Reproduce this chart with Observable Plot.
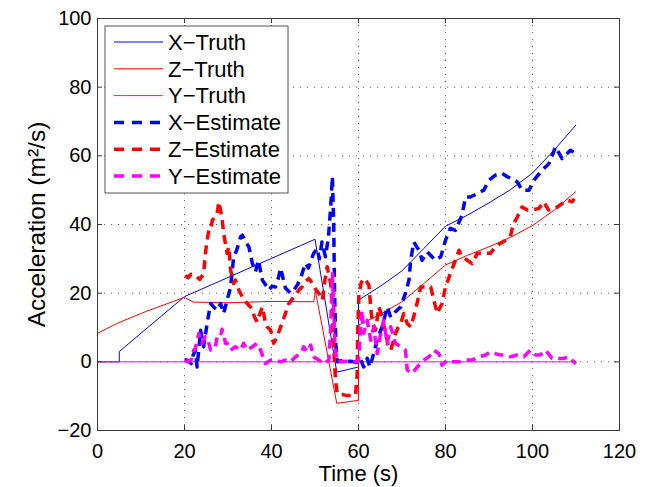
<!DOCTYPE html>
<html><head><meta charset="utf-8">
<script src="https://cdn.jsdelivr.net/npm/d3@7"></script>
<script src="https://cdn.jsdelivr.net/npm/@observablehq/plot@0.6"></script>
<style>
html,body{margin:0;padding:0;background:#fff;}
#chart{width:652px;height:487px;}
</style></head><body><div id="chart"></div>
<script>
const xTicks = [0, 20, 40, 60, 80, 100, 120];
const yTicks = [-20, 0, 20, 40, 60, 80, 100];
const xLabel = "Time (s)";
const yLabel = "Acceleration (m²/s)";
const seriesNames = ["X−Truth", "Z−Truth", "Y−Truth", "X−Estimate", "Z−Estimate", "Y−Estimate"];
const seriesColors = ["#0000ff", "#ff0000", "#ff00ff", "#0000ff", "#ff0000", "#ff00ff"];

const xTruth = [[0,0],[5,0],[5,3],[20,19],[50,35.7],[55,-3],[60,-1.5],[60,18],[65,22],[70,26.5],[75,33],[80,39.5],[85,42.7],[90,46.3],[95,50.2],[100,55],[105,61.7],[110,69]];
const zTruth = [[0,8.3],[4.5,11.2],[11,14.6],[20,18.8],[22,17.4],[30,17.2],[40,17.6],[49.7,17.5],[50.1,20.6],[55,-12.1],[60,-11.2],[60,10.7],[65,13.8],[70,17.5],[75,22.8],[80,28.2],[85,31],[90,33.5],[95,36.3],[100,39.7],[105,44.2],[110,49.6]];
const yTruth = [[0,0],[110,0]];

const xEstimate = [[20.0,0.5],[20.6,0.5],[21.5,-0.5],[22.0,2],[22.5,3.4],[22.9,-1.5],[23.7,9.2],[24.4,4.4],[25.2,11.2],[26.0,17],
[26.7,16],[27.5,15],[28.3,17],[29.0,14.1],[29.8,18],[30.6,21.8],[31.3,30.6],[32.0,32.5],[32.9,36.4],[33.3,36.9],
[34.0,35],[34.8,33.5],[35.6,28.7],[36.3,26.2],[37.0,29.6],[37.9,23.8],[38.6,22.5],[39.4,20.9],[40.1,22],[40.9,21.8],
[41.5,24],[42.1,27.3],[43.2,21.5],[44.4,20],[45.2,21],[45.9,22.3],[46.7,24.4],[47.8,28.7],[48.5,27.3],[49.2,30],
[49.7,31.6],[50.5,33],[51.0,30],[51.6,34.9],[52.4,30.6],[53.1,36.4],[53.6,45],[54.0,53.9],[54.3,40],[54.5,20],
[54.8,5],[55.1,0],[56.0,0.3],[57.0,0],[58.0,0.2],[59.0,0],[59.8,-0.5],[60.5,0.5],[61.2,-1.5],[62.0,1],
[62.6,-1.5],[63.4,2],[64.3,6.3],[65.4,10.2],[66.0,13],[66.6,16],[67.4,13],[68.5,14.6],[69.7,16],[70.8,20],
[71.6,23.8],[72.0,29.6],[72.7,34.9],[73.9,32.5],[74.6,29.6],[75.8,32],[76.9,30.6],[77.7,29.6],[78.9,30.6],[80.0,35.4],
[81.1,38.9],[82.3,38.3],[83.8,42.7],[84.6,48],[85.7,48],[87.3,49],[88.8,50],[90.0,52.9],[91.5,54.4],[93.0,54.9],
[94.2,53.9],[95.3,53.4],[96.5,52.4],[97.6,50],[99.2,50],[100.3,52.9],[102.2,55.8],[103.8,57.8],[105.3,62.6],[106.8,59.2],
[108.7,61.6],[109.5,61.1]];

const zEstimate = [[20.2,25.2],[20.8,24.5],[21.5,25.5],[22.5,25.2],[23.5,24],[24.4,25.7],[24.8,31.6],[25.2,35.4],[25.6,38.3],[26.0,38.3],
[26.4,41.3],[26.7,41.7],[27.5,43.2],[27.9,46.6],[28.3,44],[28.6,42.2],[29.0,37.4],[29.8,31.6],[30.2,33.5],[30.6,26.7],
[31.3,22.8],[31.7,23.8],[32.5,20.9],[33.3,18.9],[34.4,17],[35.5,15.5],[36.1,13],[36.7,11.6],[37.3,14],[37.9,16],
[38.5,12],[39.0,10.2],[39.8,9.2],[40.5,5.4],[41.3,7.3],[42.1,10.2],[43.2,14.1],[44.0,17],[45.1,18.9],[46.3,20.9],
[47.0,21.8],[47.4,22.8],[48.2,23.8],[48.6,24.3],[49.4,22.8],[50.2,21],[50.9,19.9],[51.7,18],[52.3,24],[52.8,27.7],
[53.6,22.8],[54.0,15],[54.3,4.4],[54.7,-5.3],[55.1,-9.2],[56.0,-9.5],[57.0,-9.7],[58.0,-9.8],[59.3,-9.7],[59.7,-3.4],
[59.8,8.3],[60.1,19.9],[60.6,23],[61.2,24.3],[61.8,23.5],[62.4,22.3],[62.8,16],[63.1,12.1],[63.9,9.2],[64.7,16],
[65.4,13.1],[66.2,8.3],[66.8,5],[67.4,3.4],[68.0,6],[68.5,8.3],[69.1,10],[69.7,11.2],[70.4,14.1],[71.2,11.2],
[72.0,10.2],[73.1,15],[74.3,21.8],[75.4,21.8],[76.6,21.8],[77.3,18],[78.1,14.1],[79.2,17],[80.0,21.8],[81.1,25.7],
[82.3,29.6],[83.1,32.5],[83.8,30.6],[85.0,29.6],[86.1,28.6],[87.3,31.6],[88.8,31.6],[90.3,31.6],[91.5,33.5],[92.6,34.5],
[93.8,35.4],[94.9,36.4],[95.5,39.8],[96.5,42.2],[97.6,45.1],[98.8,44.2],[99.9,44.2],[101.5,44.7],[102.6,46.6],[103.7,44.2],
[105.7,45.1],[106.8,46.1],[108.0,47.1],[109.1,46.6],[109.6,47.5]];

const yEstimate = [[20.2,0.5],[20.6,0],[21.5,0.5],[22.1,3.4],[22.5,3.9],[23.3,8.3],[24.0,5.4],[24.8,7.3],[25.2,7.3],[26.0,3.4],
[26.4,3.4],[27.1,4.4],[27.5,7.3],[28.3,7.3],[28.6,9.5],[29.0,8.3],[29.4,5.4],[29.8,5.4],[30.6,3.4],[31.7,4.4],
[32.9,3.4],[33.6,5.4],[34.4,3.4],[35.6,4.4],[36.7,5.4],[37.5,3.4],[38.6,-0.5],[39.8,0.5],[40.9,0.5],[42.1,0],
[43.2,0.5],[44.4,0],[45.5,1.5],[46.7,2.4],[47.4,4.4],[48.2,2.9],[49.0,4.9],[49.7,1.5],[50.9,0.5],[52.0,-0.5],
[53.2,0.5],[53.6,10],[54.0,25.7],[54.3,15],[54.6,5],[55.0,0],[56.0,0],[57.0,0.2],[58.0,0],[59.0,0],
[60.0,0.5],[60.3,6],[60.8,15],[61.2,8.3],[62.0,12.1],[62.8,6.3],[63.5,10.2],[64.3,2.4],[65.1,8.3],[65.8,12.1],
[66.6,5.4],[67.4,10.2],[68.5,5.4],[69.7,4.4],[70.8,3.4],[71.2,-2.4],[72.3,-3.4],[73.5,-1.5],[75.0,0.5],[76.2,1.5],
[77.3,3.4],[78.5,2.4],[79.2,-1],[80.4,0.5],[81.5,0],[83.1,0],[84.6,0.5],[86.1,0.5],[87.7,1.5],[89.2,2],
[90.3,2.9],[91.5,2.4],[92.6,2],[93.4,2],[94.9,1.5],[96.5,2],[98.0,1.5],[99.5,3.4],[100.7,2],[101.8,2],
[103.0,3.4],[104.5,1],[106.0,1],[107.2,1],[108.3,1.5],[109.5,0],[110.0,-0.5]];

const seriesData = [xTruth, zTruth, yTruth, xEstimate, zEstimate, yEstimate];
const isEstimate = [false, false, false, true, true, true];
const dash = "9,6";

const lineMarks = seriesData.map((d, i) => Plot.line(d, {
  x: p => p[0], y: p => p[1],
  stroke: seriesColors[i],
  strokeWidth: isEstimate[i] ? 3.5 : 1,
  strokeDasharray: isEstimate[i] ? dash : null,
  strokeLinecap: "butt",
  strokeLinejoin: "round"
}));

const font = "'Liberation Sans', Arial, Helvetica, sans-serif";
const tickColor = "#3a3a3a";
const xMin = xTicks[0], xMax = xTicks[xTicks.length - 1];
const yMin = yTicks[0], yMax = yTicks[yTicks.length - 1];
const fmt = d => d < 0 ? "−" + Math.abs(d) : String(d);

const chart = Plot.plot({
  width: 652, height: 487,
  marginLeft: 97, marginRight: 33, marginTop: 18, marginBottom: 57,
  style: {fontFamily: font, fontSize: "20px", color: "#000", background: "#fff", overflow: "visible"},
  x: {domain: [xMin, xMax], label: null},
  y: {domain: [yMin, yMax], label: null},
  marks: [
    Plot.gridX(xTicks.slice(1, -1), {stroke: "#666", strokeOpacity: 1, strokeDasharray: "1.2,5.8"}),
    Plot.gridY(yTicks.slice(1, -1), {stroke: "#666", strokeOpacity: 1, strokeDasharray: "1.2,5.8"}),
    ...lineMarks,
    // inward ticks on all four sides (MATLAB style)
    Plot.ruleX(xTicks, {x: d => d, y1: yMin, y2: yMin, insetTop: -5, stroke: tickColor}),
    Plot.ruleX(xTicks, {x: d => d, y1: yMax, y2: yMax, insetBottom: -5, stroke: tickColor}),
    Plot.ruleY(yTicks, {y: d => d, x1: xMin, x2: xMin, insetRight: -5, stroke: tickColor}),
    Plot.ruleY(yTicks, {y: d => d, x1: xMax, x2: xMax, insetLeft: -5, stroke: tickColor}),
    Plot.axisX(xTicks, {anchor: "bottom", tickSize: 0, tickPadding: 13, fontSize: 20, label: null, tickFormat: fmt}),
    Plot.axisY(yTicks, {anchor: "left", tickSize: 0, tickPadding: 6, fontSize: 20, label: null, tickFormat: fmt}),
    Plot.text([xLabel], {frameAnchor: "bottom", dy: 43, text: d => d, fontSize: 22, lineAnchor: "middle", textAnchor: "middle"}),
    Plot.text([yLabel], {frameAnchor: "left", dx: -60, rotate: -90, text: d => d, fontSize: 24.5, lineAnchor: "middle", textAnchor: "middle"}),
    Plot.frame({stroke: tickColor, strokeWidth: 1})
  ]
});

document.getElementById("chart").appendChild(chart);

// Legend (inside the plot area, upper left)
const svg = d3.select(chart);
const lg = svg.append("g").attr("class", "legend").attr("text-anchor", "start");
const box = {x: 105, y: 26, w: 183, h: 167};
lg.append("rect").attr("x", box.x).attr("y", box.y).attr("width", box.w).attr("height", box.h)
  .attr("fill", "#fff").attr("stroke", "#555").attr("stroke-width", 1);
const rowStart = 42, rowStep = 26.8;
seriesNames.forEach((name, i) => {
  const y = rowStart + i * rowStep;
  lg.append("line").attr("x1", 114).attr("x2", 163).attr("y1", y).attr("y2", y)
    .attr("stroke", seriesColors[i])
    .attr("stroke-width", isEstimate[i] ? 3.5 : 1)
    .attr("stroke-dasharray", isEstimate[i] ? "10,8" : null);
  lg.append("text").attr("x", 168).attr("y", y).attr("dy", "0.35em")
    .attr("text-anchor", "start")
    .attr("font-family", font).attr("font-size", 22).attr("fill", "#000")
    .text(name);
});
</script>
</body></html>
